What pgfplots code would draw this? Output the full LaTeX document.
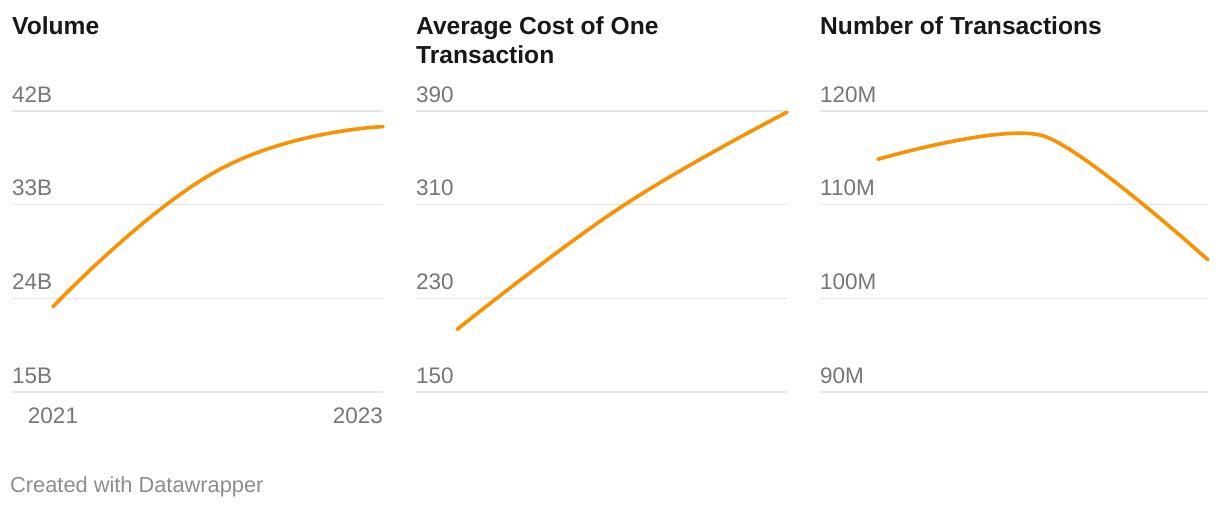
\documentclass[border=0pt]{standalone}
\usepackage{fontspec}
\setmainfont{Liberation Sans}
\usepackage{pgfplots}
\pgfplotsset{compat=1.18}

\definecolor{dwline}{RGB}{250,145,0}
\definecolor{dwgrid}{RGB}{229,229,229}
\definecolor{dwtick}{RGB}{118,118,118}
\definecolor{dwfoot}{RGB}{140,140,140}
\definecolor{dwtitle}{RGB}{24,24,24}

\newcommand{\tickfont}{\fontsize{22.5}{26}\selectfont}
\newcommand{\titlefont}{\fontsize{24.6}{30}\selectfont\bfseries}

\pgfplotsset{
  dw/.style={
    scale only axis, height=281pt,
    xmax=2023, clip=false,
    axis line style={draw=none},
    major tick length=0pt,
    ymajorgrids, grid style={dwgrid, line width=1.3pt},
    yticklabel style={anchor=base west, inner sep=0pt, yshift=9pt,
      text=dwtick, font=\tickfont},
    xtick=\empty,
  },
  dwplot/.style={dwline, line width=3.6pt, smooth, no markers, line cap=round},
}

\begin{document}
\begin{tikzpicture}
\path[use as bounding box] (0pt,0pt) rectangle (1220pt,-508pt);

% titles
\node[anchor=base west, inner sep=0pt, text=dwtitle, font=\titlefont] at (12pt,-34.5pt) {Volume};
\node[anchor=base west, inner sep=0pt, text=dwtitle, font=\titlefont] at (416pt,-34.5pt) {Average Cost of One};
\node[anchor=base west, inner sep=0pt, text=dwtitle, font=\titlefont] at (416pt,-64pt) {Transaction};
\node[anchor=base west, inner sep=0pt, text=dwtitle, font=\titlefont] at (820pt,-34.5pt) {Number of Transactions};

% Volume
\begin{axis}[dw, at={(12pt,-392pt)}, anchor=south west, width=371pt,
  xmin=2020.7515, ymin=15, ymax=42,
  ytick={15,24,33,42}, yticklabels={15B,24B,33B,42B},
  xtick={2021}, xticklabels={2021},
  extra x ticks={2023}, extra x tick labels={2023},
  xticklabel style={anchor=north, inner sep=0pt, yshift=-16pt, text=dwtick, font=\tickfont},
  extra x tick style={xticklabel style={anchor=north east}},
]
\addplot[dwplot, tension=0.8] coordinates {(2021,23.2) (2022,36.3) (2023,40.5)};
\end{axis}

% Average cost
\begin{axis}[dw, at={(416pt,-392pt)}, anchor=south west, width=371pt,
  xmin=2020.7515, ymin=150, ymax=390,
  ytick={150,230,310,390}, yticklabels={150,230,310,390},
]
\addplot[dwplot, tension=0.7] coordinates {(2021,203.4) (2022,308.5) (2023,389)};
\end{axis}

% Number of transactions
\begin{axis}[dw, at={(820pt,-392pt)}, anchor=south west, width=388pt,
  xmin=2020.6485, ymin=90, ymax=120,
  ytick={90,100,110,120}, yticklabels={90M,100M,110M,120M},
]
\addplot[dwplot, tension=0.45] coordinates {(2021,114.85) (2022,117.35) (2023,104.1)};
\end{axis}

\node[anchor=base west, inner sep=0pt, text=dwfoot, font=\fontsize{21.8}{26}\selectfont] at (10pt,-492pt) {Created with Datawrapper};
\end{tikzpicture}
\end{document}
